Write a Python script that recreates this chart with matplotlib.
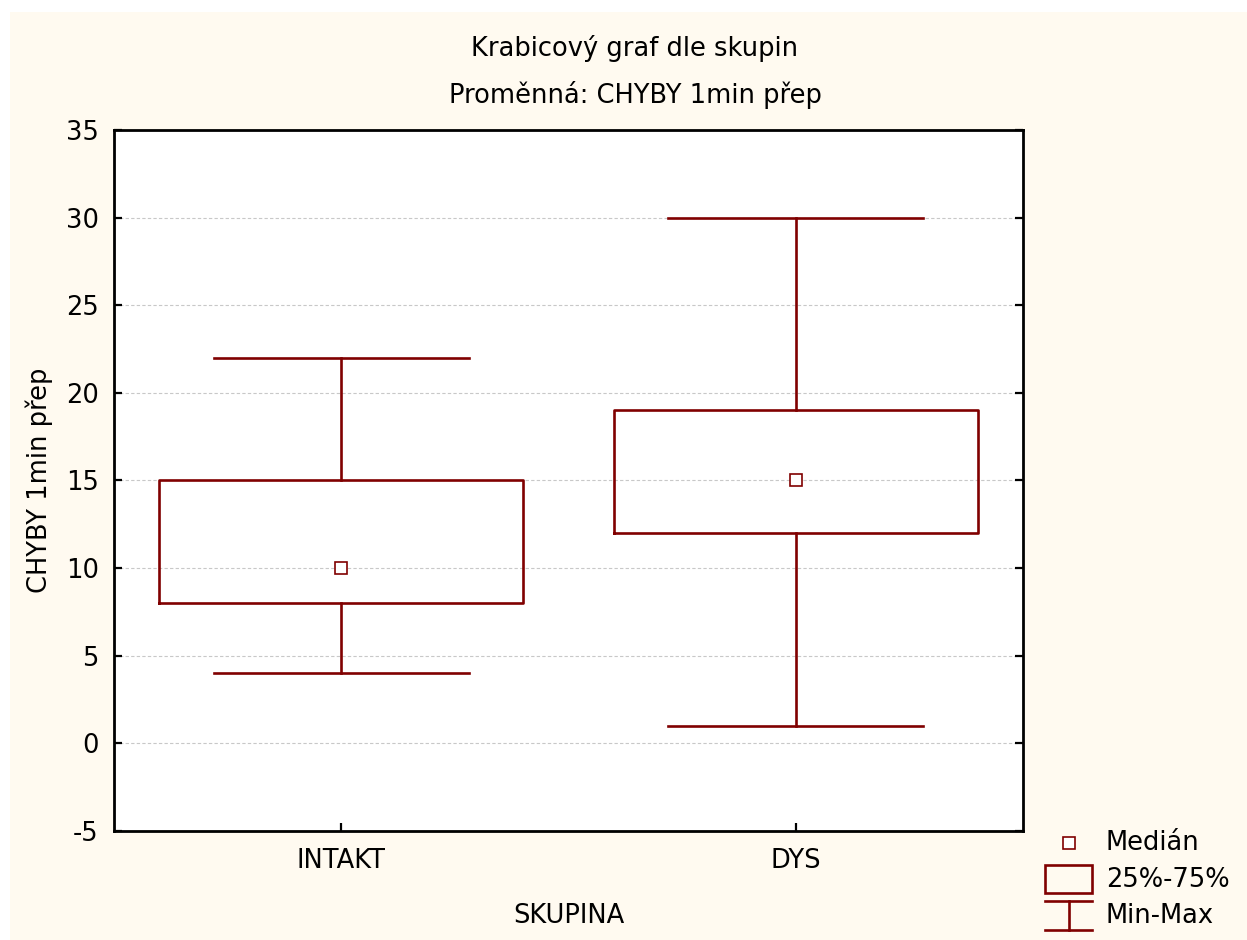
import matplotlib
matplotlib.use("Agg")
import matplotlib.pyplot as plt
from matplotlib.patches import Rectangle
from matplotlib.lines import Line2D

# Group summaries (min, Q1, median, Q3, max)
groups = ["INTAKT", "DYS"]
minimum = [4, 1]
q1 = [8, 12]
median = [10, 15]
q3 = [15, 19]
maximum = [22, 30]

y_ticks = [-5, 0, 5, 10, 15, 20, 25, 30, 35]

DARK_RED = "#800000"
PANEL = "#FFFAF0"

plt.rcParams["font.family"] = ["DejaVu Sans"]
FS = 18.5

W, H = 1247, 940
fig = plt.figure(figsize=(W / 100, H / 100), dpi=100, facecolor="white")

# cream panel behind everything
fig.patches.append(Rectangle((10 / W, -0.02), 1.0, 1.02 - 12 / H,
                             transform=fig.transFigure, facecolor=PANEL,
                             edgecolor="none", zorder=-10))

ax = fig.add_axes([114 / W, 1 - 831 / H, (1023 - 114) / W, (831 - 130) / H])
ax.set_facecolor("white")

positions = list(range(1, len(groups) + 1))
stats = []
for i, g in enumerate(groups):
    stats.append(dict(label=g, whislo=minimum[i], q1=q1[i], med=median[i],
                      q3=q3[i], whishi=maximum[i], fliers=[]))

line_kw = dict(color=DARK_RED, linewidth=1.9)
ax.bxp(stats, positions=positions, widths=0.8, capwidths=0.56,
       showfliers=False, boxprops=line_kw, whiskerprops=line_kw,
       capprops=line_kw, medianprops=dict(linewidth=0), manage_ticks=False,
       zorder=3)
ax.plot(positions, median, linestyle="none", marker="s", markersize=8.5,
        markerfacecolor="white", markeredgecolor=DARK_RED,
        markeredgewidth=1.2, zorder=4)

ax.set_xlim(0.5, len(groups) + 0.5)
ax.set_ylim(-5, 35)
ax.set_yticks(y_ticks)
ax.set_yticklabels([str(t) for t in y_ticks])
ax.set_xticks(positions)
ax.set_xticklabels(groups)
ax.yaxis.grid(True, linestyle=(0, (3, 2)), color="#c8c8c8", linewidth=0.8)
ax.set_axisbelow(True)

for s in ax.spines.values():
    s.set_linewidth(2.0)
    s.set_color("black")
ax.tick_params(axis="both", direction="in", length=6, width=1.6,
               labelsize=FS, colors="black")
ax.tick_params(axis="y", right=True, pad=11)
ax.tick_params(axis="x", pad=12)

ax.set_ylabel("CHYBY 1min přep", fontsize=FS, labelpad=9)
fig.text(568.5 / W, 1 - 916 / H, "SKUPINA", fontsize=FS,
         ha="center", va="center")

fig.text(635 / W, 1 - 48 / H, "Krabicový graf dle skupin", fontsize=FS,
         ha="center", va="center")
fig.text(635 / W, 1 - 95 / H, "Proměnná: CHYBY 1min přep", fontsize=FS,
         ha="center", va="center")

# legend drawn in figure pixel space
def fx(x):
    return x / W

def fy(y):
    return 1 - y / H

tf = fig.transFigure
fig.add_artist(Line2D([fx(1069)], [fy(843)], transform=tf, linestyle="none",
                      marker="s", markersize=8.5, markerfacecolor="white",
                      markeredgecolor=DARK_RED, markeredgewidth=1.2))
fig.add_artist(Rectangle((fx(1045), fy(893)), fx(1092) - fx(1045),
                         fy(865) - fy(893), transform=tf, facecolor="none",
                         edgecolor=DARK_RED, linewidth=1.9))
fig.add_artist(Line2D([fx(1045), fx(1092)], [fy(901), fy(901)], transform=tf,
                      color=DARK_RED, linewidth=1.9))
fig.add_artist(Line2D([fx(1045), fx(1092)], [fy(930), fy(930)], transform=tf,
                      color=DARK_RED, linewidth=1.9))
fig.add_artist(Line2D([fx(1068.5), fx(1068.5)], [fy(901), fy(930)],
                      transform=tf, color=DARK_RED, linewidth=1.9))
for label, y in [("Medián", 843), ("25%-75%", 880), ("Min-Max", 916)]:
    fig.text(fx(1106), fy(y), label, fontsize=FS, ha="left", va="center")

fig.savefig("out.png", dpi=100, facecolor="white")
